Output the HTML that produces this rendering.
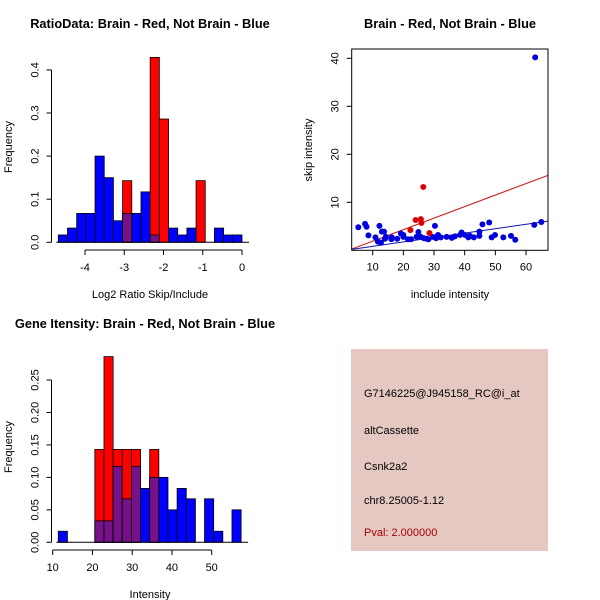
<!DOCTYPE html>
<html><head><meta charset="utf-8"><style>
body{margin:0;background:#fff;}
svg{display:block;font-family:"Liberation Sans",sans-serif;}
</style></head><body>
<svg id="c" width="600" height="600"></svg>
<script>
// ---- ratio histogram data (20 bins from -4.68 to 0)
const ratioRange = [-4.68, 0];
const ratioBlue = [0.017,0.033,0.067,0.067,0.2,0.15,0.05,0.067,0.067,0.117,0.017,0,0.033,0.017,0.033,0,0,0.033,0.017,0.017];
const ratioRed  = [0,0,0,0,0,0,0,0.143,0,0,0.429,0.286,0,0,0,0.143,0,0,0,0];
const ratioXTicks = [-4,-3,-2,-1,0];
const ratioYTicks = [0,0.1,0.2,0.3,0.4];
// ---- intensity histogram data (20 bins from 11.4 to 57.4)
const intRange = [11.4, 57.4];
const intBlue = [0.017,0,0,0,0.033,0.033,0.117,0.067,0.117,0.083,0.1,0.1,0.05,0.083,0.067,0,0.067,0.017,0,0.05];
const intRed  = [0,0,0,0,0.143,0.286,0.143,0.143,0.143,0,0.143,0,0,0,0,0,0,0,0,0];
const intXTicks = [10,20,30,40,50];
const intYTicks = [0,0.05,0.1,0.15,0.2,0.25];
// ---- scatter data
const blueX = [5.3,7.5,8,8.6,10.9,11.7,12.2,12.7,13,13.7,14,14.3,16.1,16.2,18,19.2,20,20,21.5,22.5,24.3,24.9,25.7,26.7,27.6,28.2,29.6,30.3,30.7,31.3,32.2,34.1,35.8,36.8,38.5,39,40.1,41.2,41.7,43,44.8,44.8,45.8,48,48.8,49.9,52.6,55.1,56.5,62.7,63,65];
const blueY = [4.8,5.5,4.9,3.1,2.7,1.8,5.1,1.6,3.9,3.9,2.4,2.8,2.3,2.7,2.4,3.5,3.2,2.8,2.3,2.3,2.8,3.8,2.8,2.5,2.4,2.3,2.8,5.1,2.5,3.2,2.7,2.8,2.6,2.9,3.2,3.7,3.2,2.7,3,2.7,3.9,3,5.4,5.8,2.7,3.2,2.7,3,2.2,5.3,40.2,5.9];
const redX = [22.3,24,25.7,25.9,26.5,28.5];
const redY = [4.2,6.3,6.5,5.7,13.2,3.6];
const fitIntercept = [-0.5,-0.1]; // red, blue
const fitSlope = [0.24,0.092];
const scXTicks = [10,20,30,40,50,60];
const scYTicks = [10,20,30,40];

const svg = document.getElementById('c');
const NS = 'http://www.w3.org/2000/svg';
function mk(tag, attrs, parent){const e=document.createElementNS(NS,tag);for(const k in attrs)e.setAttribute(k,attrs[k]);(parent||svg).appendChild(e);return e;}
function txt(s,x,y,attrs,parent){const t=mk('text',Object.assign({x:x,y:y},attrs),parent);t.textContent=s;return t;}

function hist(cfg){
  const g=mk('g',{});
  
  
  const xs=v=>cfg.x0px+(v-cfg.x0v)*cfg.xk;
  const ys=v=>cfg.y0px-v*cfg.yk;
  const n=cfg.blue.length, w=(cfg.range[1]-cfg.range[0])/n;
  for(let i=0;i<n;i++){
    const a=cfg.range[0]+i*w, b=a+w;
    const bl=cfg.blue[i], rd=cfg.red[i];
    const draw=(h,col,nm)=>{if(h<=0)return;const r=mk('rect',{x:xs(a),y:ys(h),width:xs(b)-xs(a),height:ys(0)-ys(h),fill:col,stroke:'#000','stroke-width':0.8},g);
      
      };
    draw(bl,'#0000ff','bar-blue-'+i);
    draw(rd,'#ff0000','bar-red-'+i);
    draw(Math.min(bl,rd),'#771188','bar-overlap-'+i);
  }
  mk('line',{x1:xs(cfg.range[0])-2,x2:xs(cfg.range[1])+7,y1:ys(0),y2:ys(0),stroke:'#000'},g);
  const ya=mk('g',{},g);
  
  
  const ax=cfg.yAxisX;
  mk('line',{x1:ax,x2:ax,y1:ys(cfg.yt[0]),y2:ys(cfg.yt[cfg.yt.length-1]),stroke:'#000'},ya);
  cfg.yt.forEach(t=>{mk('line',{x1:ax-5,x2:ax,y1:ys(t),y2:ys(t),stroke:'#000'},ya);
    txt(cfg.yfmt(t),ax-13,ys(t),{'font-size':11,'text-anchor':'middle',transform:`rotate(-90 ${ax-13} ${ys(t)})`},ya);});
  const xa=mk('g',{},g);
  
  
  const ay=cfg.xAxisY;
  mk('line',{x1:xs(cfg.xt[0]),x2:xs(cfg.xt[cfg.xt.length-1]),y1:ay,y2:ay,stroke:'#000'},xa);
  cfg.xt.forEach(t=>{mk('line',{x1:xs(t),x2:xs(t),y1:ay,y2:ay+5,stroke:'#000'},xa);
    txt(String(t),xs(t),ay+21,{'font-size':11,'text-anchor':'middle'},xa);});
}

hist({name:'ratio-histogram',range:ratioRange,blue:ratioBlue,red:ratioRed,x0px:242,x0v:0,xk:39.25,y0px:242.3,yk:431,
  xt:ratioXTicks,yt:ratioYTicks,yAxisX:51.5,xAxisY:250,yfmt:t=>t.toFixed(1)});
txt('RatioData: Brain - Red, Not Brain - Blue',150,28,{'font-size':12.8,'font-weight':'bold','text-anchor':'middle',});
txt('Frequency',12,147,{'font-size':11,'text-anchor':'middle',transform:'rotate(-90 12 147)',});
txt('Log2 Ratio Skip/Include',150,298,{'font-size':11,'text-anchor':'middle',});

hist({name:'intensity-histogram',range:intRange,blue:intBlue,red:intRed,x0px:52.7,x0v:10,xk:3.975,y0px:542.3,yk:649.2,
  xt:intXTicks,yt:intYTicks,yAxisX:51.5,xAxisY:550,yfmt:t=>t.toFixed(2)});
txt('Gene Itensity: Brain - Red, Not Brain - Blue',145,328,{'font-size':12.8,'font-weight':'bold','text-anchor':'middle',});
txt('Frequency',12,447,{'font-size':11,'text-anchor':'middle',transform:'rotate(-90 12 447)',});
txt('Intensity',150,598,{'font-size':11,'text-anchor':'middle',});

(function(){
  const g=mk('g',{});
  
  
  const L=351.7,R=548,T=49,B=250.3;
  const xs=v=>372.7+(v-10)*3.066;
  const ys=v=>250.3-v*4.8;
  const clip=mk('clipPath',{id:'sc'},g);mk('rect',{x:L,y:T,width:R-L,height:B-T},clip);
  const x0=(L-372.7)/3.066+10, x1=(R-372.7)/3.066+10;
  const cols=['#cc1111','#1111aa'];
  for(let i=0;i<2;i++){const l=mk('line',{x1:xs(x0),y1:ys(fitIntercept[i]+fitSlope[i]*x0),x2:xs(x1),y2:ys(fitIntercept[i]+fitSlope[i]*x1),stroke:cols[i],'clip-path':'url(#sc)'},g);
    
    }
  blueX.forEach((x,i)=>{const c=mk('circle',{cx:xs(x),cy:ys(blueY[i]),r:3,fill:'#0000dd'},g);
    
    });
  redX.forEach((x,i)=>{const c=mk('circle',{cx:xs(x),cy:ys(redY[i]),r:3,fill:'#dd0000'},g);
    
    });
  mk('rect',{x:L,y:T,width:R-L,height:B-T,fill:'none',stroke:'#000'},g);
  scXTicks.forEach(t=>{mk('line',{x1:xs(t),x2:xs(t),y1:B,y2:B+5,stroke:'#000'},g);txt(String(t),xs(t),B+20,{'font-size':11,'text-anchor':'middle'},g);});
  scYTicks.forEach(t=>{mk('line',{x1:L-5,x2:L,y1:ys(t),y2:ys(t),stroke:'#000'},g);txt(String(t),L-13,ys(t),{'font-size':11,'text-anchor':'middle',transform:`rotate(-90 ${L-13} ${ys(t)})`},g);});
})();
txt('Brain - Red, Not Brain - Blue',450,28,{'font-size':12.8,'font-weight':'bold','text-anchor':'middle',});
txt('skip intensity',312,150,{'font-size':11,'text-anchor':'middle',transform:'rotate(-90 312 150)',});
txt('include intensity',450,298,{'font-size':11,'text-anchor':'middle',});

const p=mk('g',{});


mk('rect',{x:351,y:349,width:197,height:202,fill:'#e6c8c2'},p);
[['G7146225@J945158_RC@i_at',397,'#000'],['altCassette',434,'#000'],['Csnk2a2',470,'#000'],['chr8.25005-1.12',504,'#000'],['Pval: 2.000000',536,'#aa0000']].forEach((r,i)=>{
  const t=txt(r[0],364,r[1],{'font-size':11,fill:r[2]},p);
  
  
});
</script>
</body></html>
